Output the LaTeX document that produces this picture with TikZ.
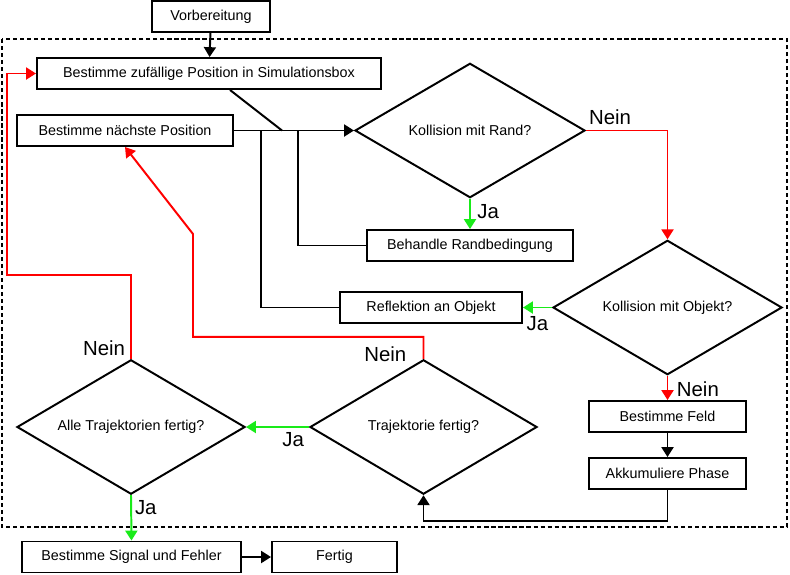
\documentclass[tikz,border=0pt]{standalone}
\usepackage{fontspec}
\setmainfont{Liberation Sans}
\usetikzlibrary{arrows.meta,shapes.geometric,positioning}
\definecolor{neinred}{rgb}{1.00,0.00,0.00}
\definecolor{jagreen}{rgb}{0.10,0.92,0.10}
\tikzset{
  proc/.style={rectangle, draw=black, line width=1.4pt, minimum height=0.775cm,
               inner sep=2pt, font=\fontsize{10.2}{12}\selectfont},
  dec/.style={diamond, aspect=1.7, draw=black, line width=1.4pt, inner sep=0pt,
              minimum height=3.36cm, font=\fontsize{10.2}{12}\selectfont},
  ar/.style={-{Triangle[length=7pt,width=8.5pt]}, line width=1.4pt, draw=black},
  jaar/.style={ar, draw=jagreen, color=jagreen},
  neinar/.style={ar, draw=neinred, color=neinred},
  lbl/.style={font=\fontsize{14.5}{16}\selectfont, inner sep=0pt, text=black},
}

\begin{document}
\begin{tikzpicture}[x=0.025cm, y=-0.025cm,
    frame/.style={line width=2pt, dash pattern=on 3pt off 2pt},
    ln/.style={line width=1.4pt, draw=black}]
  \useasboundingbox (0,0) rectangle (790,574);
  % loop over all trajectories
  \draw[frame] (2,39) rectangle (787,527);

  \node[proc, minimum width=2.95cm] (vorb) at (211,16.5) {Vorbereitung};
  \node[proc, minimum width=8.6cm] (zuf) at (209,73.5) {Bestimme zufällige Position in Simulationsbox};
  \node[proc, minimum width=5.4cm] (next) at (125,130.5) {Bestimme nächste Position};
  \node[dec, minimum width=5.75cm] (rand) at (470,130.5) {Kollision mit Rand?};
  \node[proc, minimum width=5.15cm] (behandle) at (470,245.5) {Behandle Randbedingung};
  \node[dec, minimum width=5.725cm] (objekt) at (667.5,307.5) {Kollision mit Objekt?};
  \node[proc, minimum width=4.55cm] (refl) at (431,307.5) {Reflektion an Objekt};
  \node[proc, minimum width=3.925cm] (feld) at (667.5,416.5) {Bestimme Feld};
  \node[proc, minimum width=3.925cm] (phase) at (667.5,473.5) {Akkumuliere Phase};
  \node[dec, minimum width=5.675cm] (traj) at (423.5,427) {Trajektorie fertig?};
  \node[dec, minimum width=5.7cm] (alle) at (131,427) {Alle Trajektorien fertig?};
  \node[proc, minimum width=5.475cm] (signal) at (131.5,557) {Bestimme Signal und Fehler};
  \node[proc, minimum width=3.125cm] (fertig) at (334.5,557) {Fertig};

  \coordinate (join) at (282,130.5);
  \coordinate (m1) at (298,130.5);
  \coordinate (m2) at (261,130.5);

  \draw[ar] (vorb) -- (zuf);
  \draw[ln] ([xshift=0.525cm]zuf.south) -- (join);
  \draw[ar] (next) -- (rand);
  \draw[ln] (behandle.west) -| (m1);
  \draw[ln] (refl.west) -| (m2);

  \draw[jaar] (rand.south) -- (behandle.north)
    node[lbl, anchor=base west, pos=0.66, xshift=4.5pt] {Ja};
  \draw[neinar] (rand.east) -| (objekt.north)
    node[lbl, anchor=base west, pos=0, xshift=1.5pt, yshift=4pt] {Nein};
  \draw[jaar] (objekt.west) -- (refl.east)
    node[lbl, anchor=base, pos=0.5, yshift=-16.6pt] {Ja};
  \draw[neinar] (objekt.south) -- (feld.north)
    node[lbl, anchor=base west, pos=1, xshift=6pt, yshift=2.8pt] {Nein};
  \draw[ar] (feld) -- (phase);
  \draw[ar] (phase.south) -- ++(0,31) -| (traj.south);

  \draw[jaar] (traj.west) -- (alle.east)
    node[lbl, anchor=base, pos=0.25, yshift=-14.2pt] {Ja};
  \draw[neinar] (traj.north) -- ++(0,-22) -| (193,234) -- (next.south);
  \node[lbl, anchor=base east, xshift=-12pt, yshift=-2pt] (trajnein) at (traj.north) {Nein};

  \draw[neinar] (alle.north) -- ++(0,-84) -| (7,73.5) -- (zuf.west);
  \node[lbl, anchor=base east, xshift=-4pt, yshift=2pt] (allenein) at (alle.north) {Nein};
  \draw[jaar] (alle.south) -- (signal.north)
    node[lbl, anchor=base west, pos=0.43, xshift=2pt] {Ja};
  \draw[ar] (signal) -- (fertig);
\end{tikzpicture}
\end{document}
